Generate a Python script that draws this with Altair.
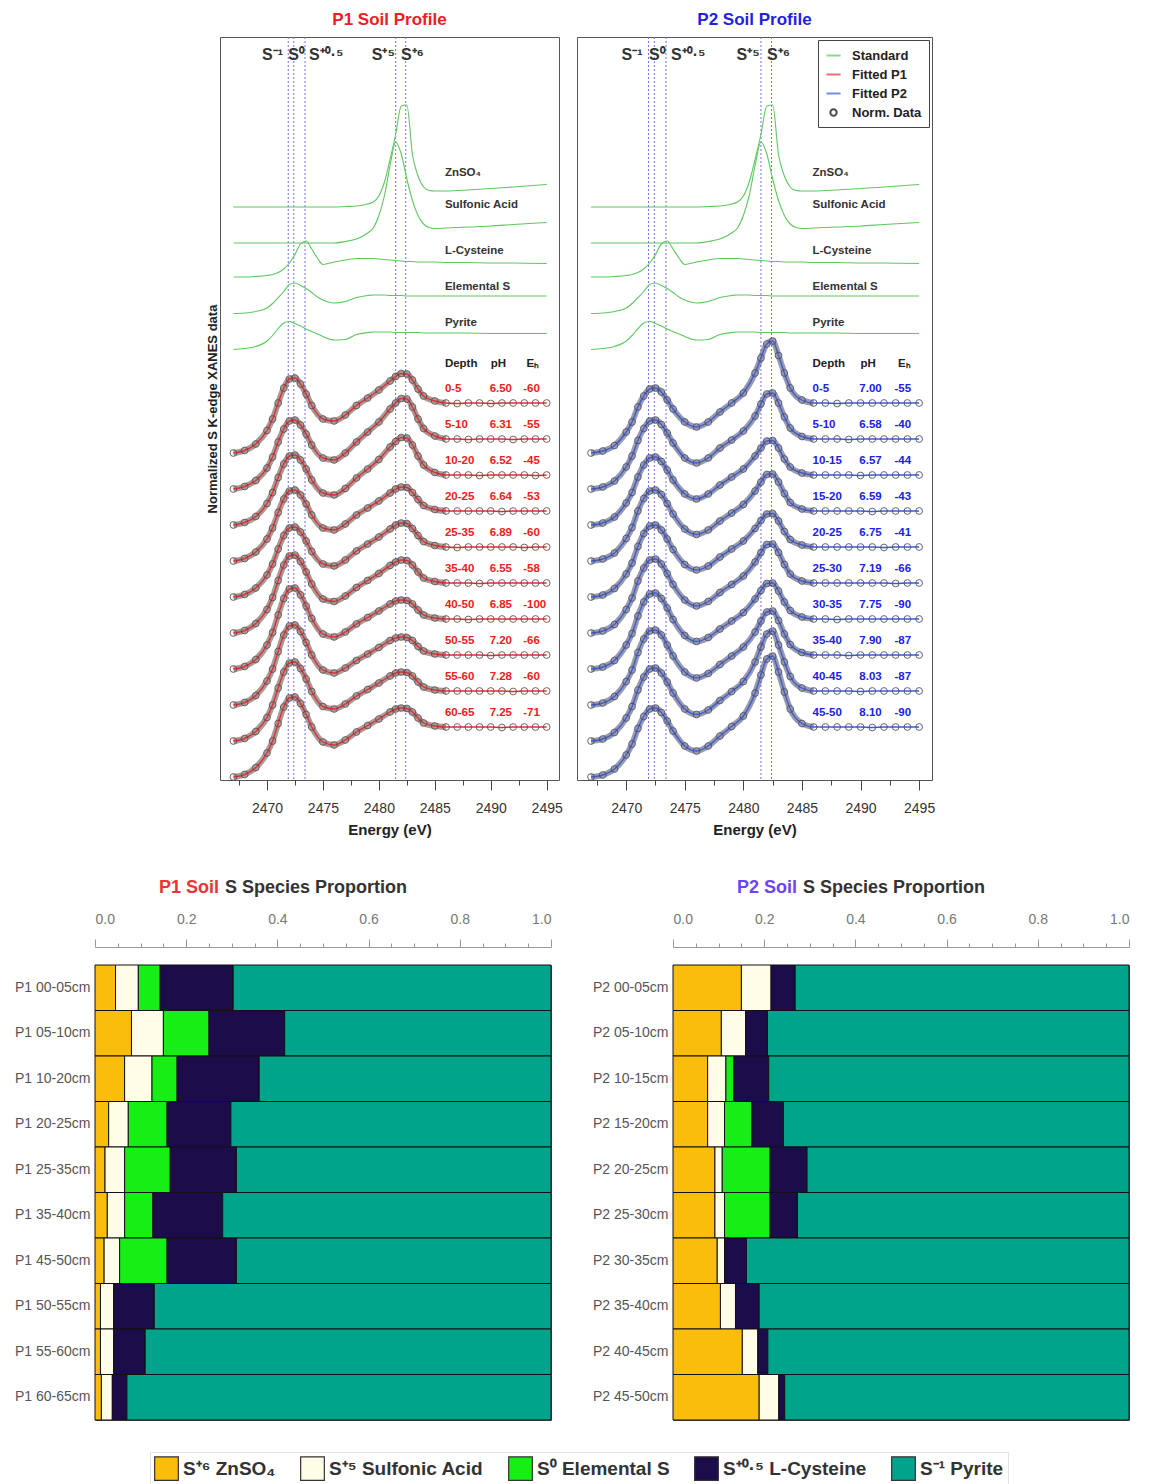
import altair as alt
import pandas as pd

FONT = "Liberation Sans"
NARROW = "Liberation Sans Narrow, Liberation Sans"

# ---------------- XANES spectra (normalised, edge step = 1) ----------------
ENERGY = [2467, 2468, 2469, 2470, 2470.5, 2471, 2471.5, 2472, 2472.5, 2473, 2473.5, 2474,
          2475, 2476, 2477, 2478, 2479, 2480, 2481, 2481.5, 2482, 2482.5, 2483, 2483.5,
          2484, 2485, 2486, 2487, 2488, 2489, 2490, 2491, 2492, 2493, 2494, 2495]

STD_ENERGY = [2467, 2468, 2469, 2470, 2470.5, 2471, 2471.5, 2472, 2472.5, 2473, 2473.5, 2474,
              2474.5, 2475, 2476, 2477, 2478, 2479, 2479.5, 2480, 2480.5, 2481, 2481.5, 2482,
              2482.5, 2483, 2483.5, 2484, 2484.5, 2485, 2486, 2488, 2490, 2492, 2495]

STD_NAMES = ["ZnSO₄", "Sulfonic Acid", "L-Cysteine", "Elemental S", "Pyrite"]
STD_ZNSO4 = [0, 0, 0, 0, 0, 0, 0, 0, 0, 0, 0, 0, 0, 0, 0,
             0.01, 0.02, 0.06, 0.10, 0.22, 0.50, 0.95, 1.45, 2.02, 2.04, 1.05, 0.62, 0.40,
             0.33, 0.32, 0.32, 0.34, 0.37, 0.40, 0.45]
STD_SULFONIC = [0, 0, 0, 0, 0, 0, 0, 0, 0, 0, 0, 0, 0, 0, 0,
                0.03, 0.08, 0.20, 0.30, 0.55, 0.95, 1.55, 2.02, 1.78, 1.28, 0.85, 0.55, 0.38,
                0.31, 0.29, 0.30, 0.32, 0.34, 0.37, 0.41]
STD_CYSTEINE = [0, 0, 0.01, 0.03, 0.05, 0.09, 0.16, 0.28, 0.45, 0.66, 0.72, 0.56, 0.38, 0.25,
                0.30, 0.34, 0.37, 0.37, 0.37, 0.36, 0.35, 0.34, 0.33, 0.32, 0.31, 0.31, 0.30,
                0.30, 0.30, 0.30, 0.29, 0.29, 0.28, 0.28, 0.27]
STD_ELEMENTAL = [0, 0.01, 0.04, 0.11, 0.20, 0.32, 0.44, 0.58, 0.61, 0.56, 0.50, 0.42, 0.33,
                 0.27, 0.21, 0.24, 0.32, 0.36, 0.37, 0.37, 0.37, 0.36, 0.36, 0.36, 0.35, 0.35,
                 0.35, 0.35, 0.35, 0.35, 0.35, 0.35, 0.35, 0.35, 0.35]
STD_PYRITE = [0, 0.02, 0.06, 0.17, 0.28, 0.42, 0.53, 0.56, 0.52, 0.47, 0.41, 0.36, 0.31,
              0.26, 0.19, 0.20, 0.30, 0.34, 0.35, 0.35, 0.35, 0.35, 0.34, 0.34, 0.34, 0.34,
              0.34, 0.33, 0.33, 0.33, 0.33, 0.33, 0.32, 0.32, 0.32]
STD_OFFSET = [11.46, 10.74, 10.06, 9.33, 8.61]
STD_LABEL_DY = [0.68, 0.76, 0.52, 0.53, 0.53]

SAMPLE_OFFSET = [6.54, 5.82, 5.10, 4.38, 3.66, 2.94, 2.22, 1.50, 0.78, 0.06]

P1_DEPTH = ["0-5", "5-10", "10-20", "20-25", "25-35", "35-40", "40-50", "50-55", "55-60", "60-65"]
P1_PH = ["6.50", "6.31", "6.52", "6.64", "6.89", "6.55", "6.85", "7.20", "7.28", "7.25"]
P1_EH = ["-60", "-55", "-45", "-53", "-60", "-58", "-100", "-66", "-60", "-71"]
P1_SPECTRA = [
    [0.00, 0.05, 0.18, 0.45, 0.68, 1.00, 1.30, 1.48, 1.50, 1.38, 1.18, 0.95, 0.68, 0.64, 0.76, 0.95, 1.10, 1.26, 1.44, 1.53, 1.59, 1.58, 1.46, 1.28, 1.14, 1.04, 1.00, 0.99, 1.00, 1.00, 0.99, 1.00, 1.00, 1.00, 1.00, 1.00],
    [0.00, 0.05, 0.17, 0.42, 0.64, 0.94, 1.20, 1.36, 1.38, 1.28, 1.10, 0.88, 0.62, 0.58, 0.72, 0.94, 1.14, 1.34, 1.60, 1.72, 1.81, 1.80, 1.64, 1.40, 1.21, 1.06, 1.00, 1.00, 0.99, 1.00, 1.00, 1.00, 0.99, 1.00, 1.00, 1.00],
    [0.00, 0.05, 0.17, 0.43, 0.65, 0.95, 1.22, 1.38, 1.40, 1.30, 1.12, 0.90, 0.64, 0.60, 0.73, 0.94, 1.12, 1.31, 1.56, 1.67, 1.75, 1.74, 1.60, 1.38, 1.20, 1.05, 1.00, 1.00, 1.00, 0.99, 1.00, 1.00, 1.00, 1.00, 0.99, 1.00],
    [0.00, 0.05, 0.18, 0.44, 0.66, 0.97, 1.24, 1.40, 1.42, 1.32, 1.14, 0.92, 0.66, 0.62, 0.74, 0.92, 1.06, 1.20, 1.36, 1.44, 1.48, 1.47, 1.37, 1.23, 1.11, 1.03, 1.00, 1.00, 1.00, 1.00, 1.00, 0.99, 1.00, 1.00, 1.00, 1.00],
    [0.00, 0.05, 0.18, 0.44, 0.66, 0.96, 1.23, 1.38, 1.40, 1.30, 1.12, 0.91, 0.66, 0.62, 0.74, 0.92, 1.06, 1.20, 1.36, 1.44, 1.48, 1.47, 1.37, 1.23, 1.11, 1.03, 1.00, 0.99, 1.00, 1.00, 1.00, 1.00, 1.00, 0.99, 1.00, 1.00],
    [0.00, 0.05, 0.19, 0.47, 0.71, 1.05, 1.36, 1.54, 1.56, 1.43, 1.22, 0.98, 0.68, 0.63, 0.74, 0.91, 1.05, 1.19, 1.35, 1.42, 1.46, 1.45, 1.36, 1.22, 1.10, 1.03, 1.00, 1.00, 1.00, 0.99, 1.00, 1.00, 1.00, 1.00, 1.00, 1.00],
    [0.00, 0.05, 0.19, 0.48, 0.73, 1.08, 1.41, 1.60, 1.62, 1.48, 1.26, 1.01, 0.70, 0.64, 0.74, 0.90, 1.03, 1.16, 1.30, 1.36, 1.38, 1.37, 1.30, 1.18, 1.08, 1.02, 1.00, 1.00, 0.99, 1.00, 1.00, 1.00, 1.00, 1.00, 1.00, 1.00],
    [0.00, 0.05, 0.19, 0.48, 0.72, 1.07, 1.40, 1.58, 1.60, 1.47, 1.25, 1.00, 0.70, 0.64, 0.74, 0.89, 1.02, 1.15, 1.29, 1.34, 1.36, 1.35, 1.29, 1.17, 1.08, 1.02, 1.00, 1.00, 1.00, 1.00, 0.99, 1.00, 1.00, 1.00, 1.00, 1.00],
    [0.00, 0.05, 0.19, 0.47, 0.72, 1.06, 1.38, 1.56, 1.58, 1.45, 1.24, 0.99, 0.69, 0.64, 0.74, 0.90, 1.03, 1.16, 1.30, 1.36, 1.38, 1.37, 1.30, 1.18, 1.08, 1.02, 1.00, 1.00, 1.00, 1.00, 1.00, 1.00, 0.99, 1.00, 1.00, 1.00],
    [0.00, 0.05, 0.19, 0.48, 0.72, 1.07, 1.40, 1.58, 1.60, 1.47, 1.25, 1.00, 0.70, 0.64, 0.74, 0.90, 1.03, 1.16, 1.30, 1.36, 1.38, 1.37, 1.30, 1.18, 1.08, 1.02, 1.00, 1.00, 1.00, 1.00, 1.00, 0.99, 1.00, 1.00, 1.00, 1.00],
]

P2_DEPTH = ["0-5", "5-10", "10-15", "15-20", "20-25", "25-30", "30-35", "35-40", "40-45", "45-50"]
P2_PH = ["7.00", "6.58", "6.57", "6.59", "6.75", "7.19", "7.75", "7.90", "8.03", "8.10"]
P2_EH = ["-55", "-40", "-44", "-43", "-41", "-66", "-90", "-87", "-87", "-90"]
P2_SPECTRA = [
    [0.00, 0.04, 0.15, 0.42, 0.62, 0.92, 1.14, 1.28, 1.30, 1.22, 1.06, 0.88, 0.62, 0.52, 0.62, 0.82, 1.00, 1.20, 1.60, 1.90, 2.18, 2.24, 1.95, 1.60, 1.30, 1.06, 1.00, 1.00, 0.99, 1.00, 1.00, 1.00, 1.00, 1.00, 1.00, 1.00],
    [0.00, 0.04, 0.16, 0.44, 0.66, 0.97, 1.21, 1.36, 1.38, 1.29, 1.12, 0.92, 0.62, 0.52, 0.62, 0.82, 0.98, 1.16, 1.46, 1.70, 1.90, 1.92, 1.72, 1.44, 1.22, 1.05, 1.00, 1.00, 1.00, 0.99, 1.00, 1.00, 1.00, 1.00, 1.00, 1.00],
    [0.00, 0.04, 0.16, 0.44, 0.65, 0.96, 1.20, 1.34, 1.36, 1.27, 1.10, 0.90, 0.62, 0.52, 0.62, 0.80, 0.96, 1.12, 1.38, 1.54, 1.68, 1.69, 1.54, 1.32, 1.16, 1.04, 1.00, 1.00, 1.00, 1.00, 0.99, 1.00, 1.00, 1.00, 1.00, 1.00],
    [0.00, 0.04, 0.16, 0.45, 0.67, 1.00, 1.25, 1.40, 1.42, 1.33, 1.15, 0.94, 0.64, 0.53, 0.62, 0.80, 0.96, 1.13, 1.40, 1.58, 1.73, 1.74, 1.58, 1.35, 1.17, 1.04, 1.00, 1.00, 1.00, 1.00, 1.00, 0.99, 1.00, 1.00, 1.00, 1.00],
    [0.00, 0.04, 0.17, 0.46, 0.68, 1.01, 1.27, 1.42, 1.44, 1.34, 1.16, 0.95, 0.65, 0.54, 0.62, 0.80, 0.96, 1.12, 1.37, 1.53, 1.66, 1.67, 1.52, 1.31, 1.15, 1.04, 1.00, 1.00, 1.00, 1.00, 1.00, 1.00, 0.99, 1.00, 1.00, 1.00],
    [0.00, 0.04, 0.17, 0.47, 0.70, 1.04, 1.30, 1.46, 1.48, 1.38, 1.19, 0.97, 0.66, 0.54, 0.63, 0.81, 0.97, 1.14, 1.42, 1.61, 1.77, 1.78, 1.61, 1.37, 1.18, 1.04, 1.00, 1.00, 1.00, 1.00, 1.00, 1.00, 1.00, 0.99, 1.00, 1.00],
    [0.00, 0.04, 0.17, 0.48, 0.71, 1.06, 1.34, 1.50, 1.52, 1.41, 1.22, 0.99, 0.67, 0.55, 0.63, 0.80, 0.96, 1.13, 1.40, 1.57, 1.71, 1.72, 1.56, 1.34, 1.17, 1.04, 1.00, 1.00, 0.99, 1.00, 1.00, 1.00, 1.00, 1.00, 1.00, 1.00],
    [0.00, 0.04, 0.17, 0.47, 0.70, 1.05, 1.32, 1.48, 1.50, 1.40, 1.20, 0.98, 0.66, 0.54, 0.63, 0.81, 0.98, 1.16, 1.46, 1.68, 1.86, 1.88, 1.69, 1.42, 1.21, 1.05, 1.00, 1.00, 1.00, 0.99, 1.00, 1.00, 1.00, 1.00, 1.00, 1.00],
    [0.00, 0.04, 0.17, 0.46, 0.69, 1.02, 1.28, 1.44, 1.46, 1.36, 1.18, 0.96, 0.64, 0.53, 0.62, 0.81, 0.99, 1.19, 1.58, 1.88, 2.14, 2.20, 1.92, 1.58, 1.29, 1.06, 1.00, 1.00, 1.00, 1.00, 0.99, 1.00, 1.00, 1.00, 1.00, 1.00],
    [0.00, 0.04, 0.16, 0.44, 0.66, 0.97, 1.21, 1.36, 1.38, 1.29, 1.12, 0.92, 0.62, 0.52, 0.62, 0.82, 1.01, 1.22, 1.68, 2.04, 2.36, 2.42, 2.10, 1.70, 1.36, 1.07, 1.00, 1.00, 1.00, 1.00, 1.00, 0.99, 1.00, 1.00, 1.00, 1.00],
]

EDGE_ENERGY = [2471.9, 2472.4, 2473.4, 2481.5, 2482.4]
EDGE_TEXT = ["S⁻¹", "S⁰", "S⁺⁰·⁵", "S⁺⁵", "S⁺⁶"]
EDGE_TEXT_ENERGY = [2470.5, 2472.65, 2475.3, 2480.4, 2483.0]

LEGEND_KINDS = ["Standard", "Fitted P1", "Fitted P2", "Norm. Data"]
SMALL_CIRCLE = "M0,-0.45A0.45,0.45 0 1,1 0,0.45A0.45,0.45 0 1,1 0,-0.45Z"

# ---------------- species proportions ----------------
SPECIES = ["S⁺⁶ ZnSO₄", "S⁺⁵ Sulfonic Acid", "S⁰ Elemental S", "S⁺⁰·⁵ L-Cysteine", "S⁻¹ Pyrite"]
SPECIES_COLORS = ["#fbbd0b", "#fffde8", "#16ee16", "#1d0c4a", "#00a48b"]

P1_SAMPLES = ["P1 00-05cm", "P1 05-10cm", "P1 10-20cm", "P1 20-25cm", "P1 25-35cm",
              "P1 35-40cm", "P1 45-50cm", "P1 50-55cm", "P1 55-60cm", "P1 60-65cm"]
P1_ZNSO4 = [0.045, 0.080, 0.065, 0.030, 0.022, 0.027, 0.020, 0.012, 0.012, 0.014]
P1_SULFONIC = [0.050, 0.070, 0.060, 0.043, 0.043, 0.038, 0.034, 0.029, 0.029, 0.024]
P1_ELEMENTAL = [0.048, 0.100, 0.055, 0.085, 0.100, 0.062, 0.104, 0.0, 0.0, 0.0]
P1_CYSTEINE = [0.160, 0.166, 0.180, 0.140, 0.145, 0.153, 0.152, 0.089, 0.069, 0.032]
P1_PYRITE = [0.697, 0.584, 0.640, 0.702, 0.690, 0.720, 0.690, 0.870, 0.890, 0.930]

P2_SAMPLES = ["P2 00-05cm", "P2 05-10cm", "P2 10-15cm", "P2 15-20cm", "P2 20-25cm",
              "P2 25-30cm", "P2 30-35cm", "P2 35-40cm", "P2 40-45cm", "P2 45-50cm"]
P2_ZNSO4 = [0.150, 0.106, 0.076, 0.076, 0.092, 0.092, 0.097, 0.104, 0.152, 0.189]
P2_SULFONIC = [0.065, 0.053, 0.040, 0.037, 0.016, 0.021, 0.016, 0.033, 0.034, 0.043]
P2_ELEMENTAL = [0.0, 0.0, 0.017, 0.060, 0.105, 0.100, 0.0, 0.0, 0.0, 0.0]
P2_CYSTEINE = [0.053, 0.048, 0.077, 0.069, 0.081, 0.060, 0.048, 0.052, 0.022, 0.013]
P2_PYRITE = [0.732, 0.793, 0.790, 0.758, 0.706, 0.727, 0.839, 0.811, 0.792, 0.755]

# ---------------- helpers ----------------
X_DOMAIN = [2465.8, 2496.1]
Y_DOMAIN = [0, 14.86]
XTICKS = [2467.5 + 2.5 * i for i in range(12)]
LABEL_E = [2485.9, 2489.9, 2492.9]


def spectra_df(energy, arrays, offsets, key):
    rows = []
    for i, (arr, off) in enumerate(zip(arrays, offsets)):
        assert len(arr) == len(energy), (key, i, len(arr))
        for e, v in zip(energy, arr):
            rows.append({key: i, "E": e, "y": off + v})
    return pd.DataFrame(rows)


def xanes_panel(spectra, depth, ph, eh, fit_color, data_color, band_color, text_color,
                width, title, title_color, y_title, with_legend):
    xs = alt.Scale(domain=X_DOMAIN, nice=False, zero=False)
    ys = alt.Scale(domain=Y_DOMAIN, nice=False, zero=False)
    xaxis = alt.Axis(values=XTICKS, format="d",
                     labelExpr="datum.value % 5 === 0 ? datum.label : ''",
                     tickSize={"condition": {"test": "datum.value % 5 === 0", "value": 10}, "value": 5},
                     tickColor="#444", domain=False, grid=False, labelFontSize=14,
                     labelColor="#333", labelFont=FONT, labelPadding=11,
                     title="Energy (eV)", titleFontSize=15, titleFontWeight="bold",
                     titleColor="#222", titleFont=FONT, titlePadding=7)
    if y_title:
        yaxis = alt.Axis(title="Normalized S K-edge XANES data", labels=False, ticks=False,
                         domain=False, grid=False, titleFontSize=13, titleFontWeight="bold",
                         titleColor="#222", titleFont=FONT, titlePadding=1)
    else:
        yaxis = None

    def X(f="E:Q"):
        return alt.X(f, scale=xs, axis=xaxis)

    def Y(f="y:Q"):
        return alt.Y(f, scale=ys, axis=yaxis)

    edges = alt.Chart(pd.DataFrame({"E": EDGE_ENERGY})).mark_rule(
        color="#7070e0", strokeDash=[2, 2], strokeWidth=1).encode(x=X())

    edge_text = alt.Chart(pd.DataFrame({"E": EDGE_TEXT_ENERGY, "t": EDGE_TEXT})).mark_text(
        font=FONT, fontSize=16, fontWeight="bold", color="#333", baseline="middle").encode(
        x=X(), y=alt.value(18), text="t:N")

    std_df = spectra_df(STD_ENERGY, [STD_ZNSO4, STD_SULFONIC, STD_CYSTEINE, STD_ELEMENTAL, STD_PYRITE],
                        STD_OFFSET, "std")
    std_lines = alt.Chart(std_df).mark_line(color="#5ec85e", strokeWidth=1.1,
                                            interpolate="monotone").encode(
        x=X(), y=Y(), detail="std:N")

    std_lab_df = pd.DataFrame({"t": STD_NAMES, "E": [LABEL_E[0]] * 5,
                               "y": [o + d for o, d in zip(STD_OFFSET, STD_LABEL_DY)]})
    std_labels = alt.Chart(std_lab_df).mark_text(
        align="left", baseline="middle", font=FONT, fontSize=11.5, fontWeight="bold",
        color="#333").encode(x=X(), y=Y(), text="t:N")

    header_df = pd.DataFrame({"t": ["Depth", "pH", "Eₕ"],
                              "E": [LABEL_E[0], LABEL_E[1] + 0.1, LABEL_E[2] + 0.3],
                              "y": [8.32, 8.32, 8.32]})
    header = alt.Chart(header_df).mark_text(
        align="left", baseline="middle", font=FONT, fontSize=11.5, fontWeight="bold",
        color="#222").encode(x=X(), y=Y(), text="t:N")

    samp_df = spectra_df(ENERGY, spectra, SAMPLE_OFFSET, "row")
    band = alt.Chart(samp_df).transform_filter("datum.E <= 2486").mark_line(
        color=band_color, strokeWidth=6, opacity=0.6, interpolate="monotone").encode(
        x=X(), y=Y(), detail="row:N")
    fit = alt.Chart(samp_df).mark_line(color=fit_color, strokeWidth=1.4,
                                       interpolate="monotone").encode(
        x=X(), y=Y(), detail="row:N")
    pts = alt.Chart(samp_df).mark_point(shape="circle", filled=False, size=46, strokeWidth=1,
                                        color=data_color, opacity=0.85).encode(x=X(), y=Y())

    lab_rows = []
    for i in range(len(depth)):
        yv = SAMPLE_OFFSET[i] + 1.28
        for e, t in zip(LABEL_E, [depth[i], ph[i], eh[i]]):
            lab_rows.append({"t": t, "E": e, "y": yv})
    labels = alt.Chart(pd.DataFrame(lab_rows)).mark_text(
        align="left", baseline="middle", font=FONT, fontSize=11.5, fontWeight="bold",
        color=text_color).encode(x=X(), y=Y(), text="t:N")

    layers = [edges, std_lines, band, fit, pts, edge_text, std_labels, header, labels]

    if with_legend:
        leg = alt.Legend(orient="top-right", offset=3, title=None, strokeColor="#444",
                         fillColor="white", padding=7, labelFont=FONT, labelFontSize=13,
                         labelFontWeight="bold", labelColor="#222", symbolStrokeWidth=2,
                         symbolSize=200, rowPadding=3, labelOffset=10)
        kind_df = pd.DataFrame({"kind": LEGEND_KINDS, "E": [2400.0] * 4, "y": [1.0] * 4})
        dummy = alt.Chart(kind_df).mark_point(filled=False, clip=True).encode(
            x=X(), y=Y(),
            color=alt.Color("kind:N", scale=alt.Scale(domain=LEGEND_KINDS,
                                                     range=["#5ec85e", "#e03030", "#3a5fcd", "#000000"]),
                            legend=leg),
            shape=alt.Shape("kind:N", scale=alt.Scale(domain=LEGEND_KINDS,
                                                     range=["stroke", "stroke", "stroke", SMALL_CIRCLE]),
                            legend=leg))
        layers.append(dummy)

    return alt.layer(*layers).properties(
        width=width, height=743,
        title=alt.TitleParams(title, color=title_color, fontSize=17, fontWeight="bold",
                              font=FONT, offset=8, anchor="middle"))


def bar_panel(samples, arrays, prefix, prefix_color):
    rows = []
    for i, s in enumerate(samples):
        for k, (sp, arr) in enumerate(zip(SPECIES, arrays)):
            if arr[i] > 0:
                rows.append({"sample": s, "species": sp, "value": arr[i], "order": k})
    df = pd.DataFrame(rows)
    tick_vals = [round(0.05 * i, 2) for i in range(21)]
    major = "abs(datum.value * 5 - round(datum.value * 5)) < 0.001"
    xaxis = alt.Axis(orient="top", values=tick_vals, format=".1f",
                     labelExpr=major + " ? datum.label : ''",
                     tickSize={"condition": {"test": major, "value": 8}, "value": 4},
                     offset=18, domainColor="#999", tickColor="#999", labelColor="#777",
                     labelFont=FONT, labelFontSize=14, labelPadding=13, title=None, grid=False)
    yaxis = alt.Axis(title=None, ticks=False, domain=False, labelFont=NARROW, labelFontSize=14,
                     labelColor="#555", labelPadding=5)
    legend = alt.Legend(orient="none", legendX=55, legendY=487, direction="horizontal",
                        title=None, symbolType="square",
                        symbolSize=560, symbolStrokeColor="#333", symbolStrokeWidth=1.2,
                        labelFont=NARROW, labelFontSize=19, labelFontWeight="bold",
                        labelColor="#333", columnPadding=22, labelOffset=4,
                        padding=4, strokeColor="#e2e2e2")
    bars = alt.Chart(df).mark_bar(stroke="#111", strokeWidth=1).encode(
        x=alt.X("value:Q", stack="zero", scale=alt.Scale(domain=[0, 1], nice=False), axis=xaxis),
        y=alt.Y("sample:N", sort=samples, scale=alt.Scale(paddingInner=0, paddingOuter=0), axis=yaxis),
        color=alt.Color("species:N", scale=alt.Scale(domain=SPECIES, range=SPECIES_COLORS),
                        sort=SPECIES, legend=legend),
        order=alt.Order("order:Q", sort="ascending"))
    t1 = alt.Chart(pd.DataFrame({"t": [prefix]})).mark_text(
        align="right", baseline="middle", font=FONT, fontSize=18, fontWeight="bold",
        color=prefix_color).encode(text="t:N", x=alt.value(124), y=alt.value(-77))
    t2 = alt.Chart(pd.DataFrame({"t": ["S Species Proportion"]})).mark_text(
        align="left", baseline="middle", font=FONT, fontSize=18, fontWeight="bold",
        color="#333").encode(text="t:N", x=alt.value(130), y=alt.value(-77))
    return alt.layer(bars, t1, t2).properties(width=456, height=455)


spacer = alt.Chart(pd.DataFrame({"a": [0]})).mark_point(opacity=0).encode(
    x=alt.X("a:Q", axis=None), y=alt.Y("a:Q", axis=None)).properties(
    width=96, height=10, view=alt.ViewBackground(stroke="transparent"))

p1 = xanes_panel(P1_SPECTRA, P1_DEPTH, P1_PH, P1_EH, "#e03030", "#5e4848", "#6a5656", "#ee2020",
                 339, "P1 Soil Profile", "#ee1c24", True, False)
p2 = xanes_panel(P2_SPECTRA, P2_DEPTH, P2_PH, P2_EH, "#3a5fcd", "#48486a", "#575775", "#2020e8",
                 355, "P2 Soil Profile", "#1f1fe6", False, True)
top = alt.hconcat(spacer, p1, p2, spacing=13).resolve_scale(
    color="independent", shape="independent")

b1 = bar_panel(P1_SAMPLES, [P1_ZNSO4, P1_SULFONIC, P1_ELEMENTAL, P1_CYSTEINE, P1_PYRITE],
               "P1 Soil", "#ee3333")
b2 = bar_panel(P2_SAMPLES, [P2_ZNSO4, P2_SULFONIC, P2_ELEMENTAL, P2_CYSTEINE, P2_PYRITE],
               "P2 Soil", "#6b45f2")
bottom = alt.hconcat(b1, b2, spacing=40)

chart = alt.vconcat(top, bottom, spacing=40).resolve_scale(
    color="independent", shape="independent").configure(
    font=FONT, padding={"left": 14, "top": 10, "right": 5, "bottom": 5}).configure_view(
    stroke="#555", strokeWidth=1)

chart.save("out.html", embed_options={"renderer": "svg", "actions": False})
